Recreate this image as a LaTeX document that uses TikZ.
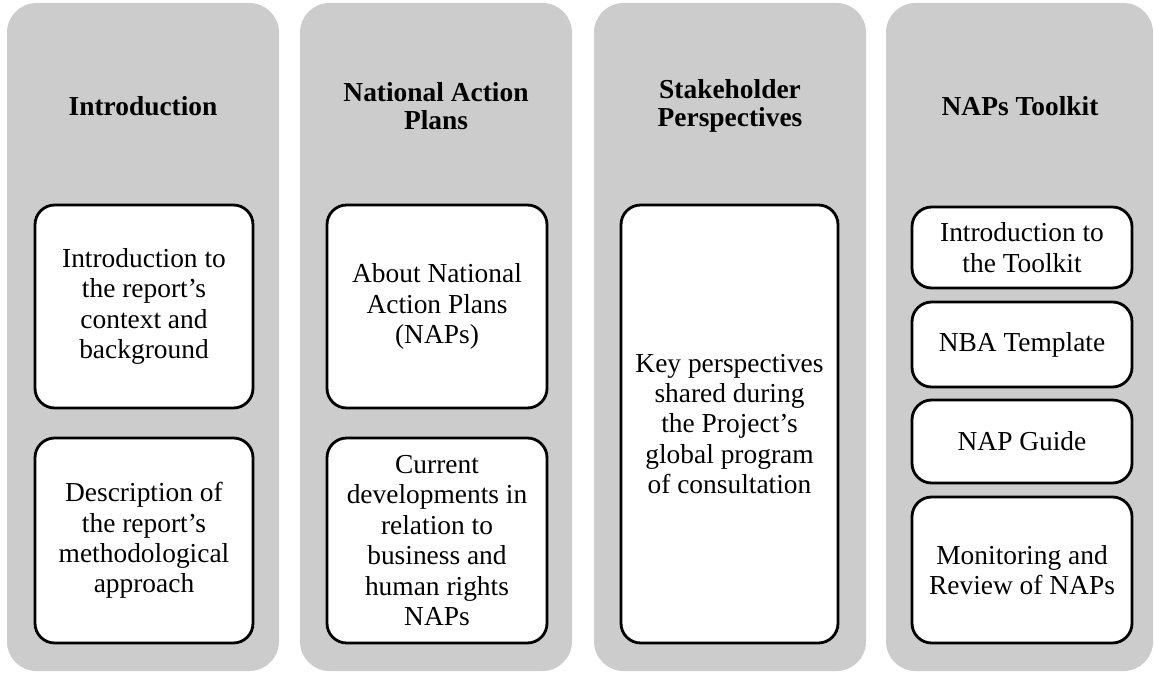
\documentclass[tikz,border=0pt]{standalone}
\usepackage{fontspec}
\setmainfont{Liberation Serif}
\definecolor{colgray}{RGB}{204,204,204}

\begin{document}
\begin{tikzpicture}[x=0.025cm, y=-0.025cm,
	column/.style={fill=colgray, rounded corners=21pt},
	box/.style={draw=black, fill=white, line width=2pt, rounded corners=14pt},
	head/.style={align=center, font=\fontsize{19.5}{20}\selectfont\bfseries},
	txt/.style={align=center, font=\fontsize{19.5}{21.6}\selectfont}]
	\useasboundingbox (0, 0) rectangle (1154, 674);
	
	%%%%% COLUMNS %%%%%
	\fill[column] (7, 3) rectangle (279, 671);
	\fill[column] (300, 3) rectangle (572, 671);
	\fill[column] (594, 3) rectangle (866, 671);
	\fill[column] (886, 3) rectangle (1153, 671);
	
	%%%%% HEADINGS %%%%%
	\node[head] (intro) at (143, 106) {Introduction};
	\node[head] (naps) at (436, 106) {National Action\\Plans};
	\node[head] (stake) at (730, 106) {Stakeholder\\Perspectives};
	\node[head] (toolkit) at (1020, 106) {NAPs Toolkit};
	
	%%%%% INTRODUCTION %%%%%
	\draw[box] (35, 205) rectangle (253, 408);
	\node[txt] (introA) at (144, 306.5) {Introduction to\\the report's\\context and\\background};
	\draw[box] (35, 438) rectangle (253, 643);
	\node[txt] (introB) at (144, 540.5) {Description of\\the report's\\methodological\\approach};
	
	%%%%% NATIONAL ACTION PLANS %%%%%
	\draw[box] (327, 205) rectangle (547, 408);
	\node[txt] (napsA) at (437, 306.5) {About National\\Action Plans\\(NAPs)};
	\draw[box] (327, 438) rectangle (547, 643);
	\node[txt] (napsB) at (437, 540.5) {Current\\developments in\\relation to\\business and\\human rights\\NAPs};
	
	%%%%% STAKEHOLDER PERSPECTIVES %%%%%
	\draw[box] (621, 205) rectangle (838, 643);
	\node[txt] (stakeA) at (729.5, 424) {Key perspectives\\shared during\\the Project's\\global program\\of consultation};
	
	%%%%% NAPS TOOLKIT %%%%%
	\draw[box] (912, 207) rectangle (1132, 288);
	\node[txt] (toolA) at (1022, 247.5) {Introduction to\\the Toolkit};
	\draw[box] (912, 302) rectangle (1132, 387);
	\node[txt] (toolB) at (1022, 344.5) {NBA Template};
	\draw[box] (912, 400) rectangle (1132, 483);
	\node[txt] (toolC) at (1022, 441.5) {NAP Guide};
	\draw[box] (912, 497) rectangle (1132, 643);
	\node[txt] (toolD) at (1022, 570) {Monitoring and\\Review of NAPs};
\end{tikzpicture}
\end{document}
